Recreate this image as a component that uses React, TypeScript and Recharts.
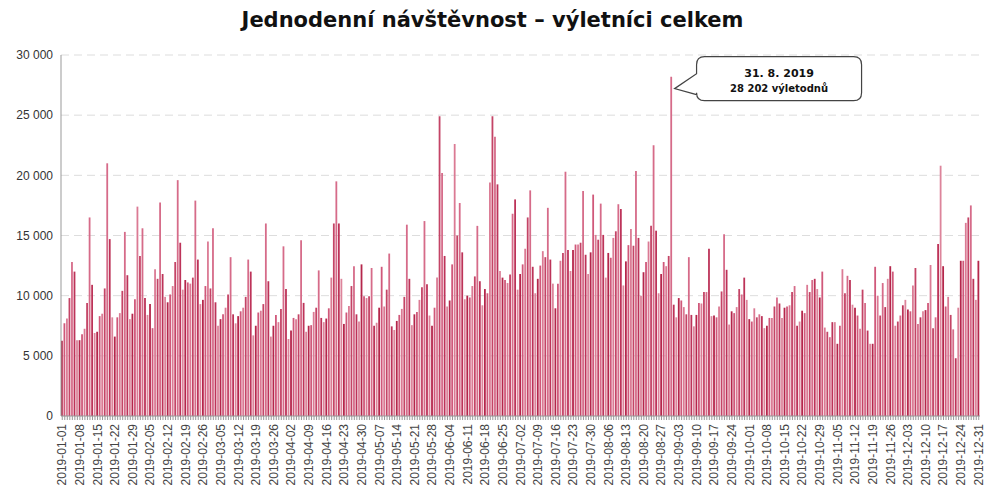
import React from "react";
import {
  BarChart,
  Bar,
  XAxis,
  YAxis,
  CartesianGrid,
  Cell,
  ReferenceDot,
} from "recharts";

// daily day-trip visits, 2019, one array per month
const jan = [6250, 7700, 8100, 9800, 12800, 12000, 6300, 6300, 6800, 7250, 9400, 16500, 10900, 6900, 7000, 8300, 8500, 10600, 21000, 14700, 8200, 6600, 8200, 8550, 10400, 15300, 11700, 8050, 8500, 9700, 17400];
const feb = [13300, 15600, 9800, 8400, 9300, 7300, 12200, 11400, 17750, 11800, 9900, 9450, 10100, 10800, 12800, 19600, 14400, 10500, 11300, 11100, 11000, 11500, 17900, 13000, 9300, 9650, 10800, 14500];
const mar = [10600, 15600, 9450, 7500, 8050, 8450, 9000, 10100, 13200, 8450, 7700, 8300, 8700, 9000, 9900, 13000, 12000, 6700, 7500, 8600, 8750, 9300, 16000, 11200, 6600, 7500, 8400, 7800, 8900, 14100, 10550];
const apr = [6400, 7100, 8150, 8050, 8450, 14600, 9400, 7000, 7500, 7550, 8650, 9000, 12100, 8150, 7800, 8100, 8950, 11500, 16000, 19500, 16000, 11400, 7650, 8600, 9150, 10800, 12450, 8450, 7850, 12600];
const may = [9950, 9800, 9950, 12300, 7500, 7750, 9000, 12400, 9100, 10500, 13500, 7450, 7150, 7900, 8400, 8900, 9900, 15900, 11400, 7550, 8450, 8650, 9650, 10700, 16200, 10950, 8350, 7500, 9000, 11500, 24900];
const jun = [20200, 13300, 9100, 9600, 12600, 22600, 15000, 17700, 13600, 9700, 10000, 9850, 10800, 11600, 15800, 11200, 9200, 10550, 10200, 19400, 24900, 23200, 19250, 12050, 11500, 11300, 11050, 11750, 16800, 18000];
const jul = [10500, 11800, 12600, 13900, 16500, 18750, 12400, 10200, 11400, 12500, 13700, 13200, 17300, 13000, 11000, 8950, 11000, 12900, 13550, 20300, 13800, 12050, 13800, 14250, 14250, 14400, 18700, 13400, 11800, 13600, 18400];
const aug = [15050, 14650, 17650, 15050, 11500, 13550, 13150, 14800, 15350, 17600, 17200, 10850, 12850, 14200, 15550, 14150, 20350, 14800, 10000, 11950, 12800, 14500, 15800, 22500, 15400, 10200, 11800, 12800, 12450, 13300, 28202];
const sep = [9250, 8200, 9800, 9600, 9050, 8450, 13200, 8400, 7450, 8400, 9400, 9350, 10300, 10300, 13900, 8300, 8350, 8200, 9100, 10350, 15100, 12150, 7600, 8700, 8550, 9050, 10550, 10100, 11500, 9650];
const oct = [8050, 7850, 8950, 8200, 8450, 8300, 7300, 7500, 8150, 8150, 9100, 9850, 9350, 8150, 9000, 9100, 9200, 10300, 10800, 7500, 7850, 8750, 8550, 10900, 10300, 11300, 11400, 10550, 9850, 12000, 7350];
const nov = [7000, 6550, 7800, 7800, 6000, 7500, 12200, 10200, 11650, 11300, 9250, 9000, 8350, 7250, 10500, 9400, 7100, 6000, 6000, 12400, 10000, 8350, 11050, 9050, 11400, 12450, 12000, 7500, 7850, 8350];
const dec = [9200, 9650, 8850, 8700, 10850, 12300, 7650, 8200, 8700, 8800, 9400, 12550, 7300, 8200, 14300, 20800, 12450, 9100, 9900, 8400, 7200, 4800, 9000, 12900, 12900, 16050, 16500, 17500, 11400, 9650, 12900];

const months = [jan, feb, mar, apr, may, jun, jul, aug, sep, oct, nov, dec];
const yTicks = [0, 5000, 10000, 15000, 20000, 25000, 30000];
const title = "Jednodenní návštěvnost – výletníci celkem";
const peakDate = "2019-08-31";
const peakValue = 28202;
const peakLines = ["31. 8. 2019", "28 202 výletodnů"];

const pad = (n: number) => String(n).padStart(2, "0");
const data = months.flatMap((vals, m) =>
  vals.map((v, d) => ({ date: `2019-${pad(m + 1)}-${pad(d + 1)}`, value: v }))
);

// shades by weekday (1 Jan 2019 was a Tuesday)
const shades = ["#b5264b", "#d0587a", "#db7a94", "#c44466", "#d66b89", "#bd3359", "#dd849b"];

const fmt = (v: number) => String(v).replace(/\B(?=(\d{3})+(?!\d))/g, " ");

const DateTick = (props: any) => {
  const { x, y, payload, index } = props;
  if (index % 7 !== 0) return null;
  return (
    <text
      x={x}
      y={y + 2}
      transform={`rotate(-90, ${x}, ${y + 2})`}
      textAnchor="end"
      dy={4}
      fontSize={12}
      fill="#444"
      fontFamily="Liberation Sans, Arial, sans-serif"
    >
      {payload.value}
    </text>
  );
};

const Callout = (props: any) => {
  const { cx, cy } = props;
  const left = cx + 25;
  const top = cy - 20;
  const w = 165;
  const h = 44;
  return (
    <g>
      <path
        d={`M${left + 8},${top} H${left + w - 8} Q${left + w},${top} ${left + w},${top + 8} V${top + h - 8} Q${left + w},${top + h} ${left + w - 8},${top + h} H${left + 8} Q${left},${top + h} ${left},${top + h - 8} V${cy + 18} L${cx + 3},${cy + 12} L${left},${cy - 3} V${top + 8} Q${left},${top} ${left + 8},${top} Z`}
        fill="#fff"
        stroke="#444"
        strokeWidth={1.2}
      />
      <text
        x={left + w / 2}
        y={cy}
        textAnchor="middle"
        fontSize={11}
        fontWeight="bold"
        fill="#111"
        fontFamily="DejaVu Sans, sans-serif"
      >
        {peakLines[0]}
      </text>
      <text
        x={left + w / 2}
        y={cy + 15}
        textAnchor="middle"
        fontSize={10}
        fontWeight="bold"
        fill="#111"
        fontFamily="DejaVu Sans, sans-serif"
      >
        {peakLines[1]}
      </text>
    </g>
  );
};

export default function App() {
  return (
    <div style={{ position: "absolute", left: 0, top: 0, width: 985, height: 486, background: "#fff" }}>
      <div
        style={{
          position: "absolute",
          top: 8,
          left: 0,
          width: 985,
          textAlign: "center",
          fontFamily: "DejaVu Sans, sans-serif",
          fontWeight: "bold",
          fontSize: 21,
          color: "#111",
        }}
      >
        {title}
      </div>
      <BarChart
        width={985}
        height={486}
        data={data}
        margin={{ top: 55, right: 5, left: 0, bottom: 0 }}
        barSize={1.8}
      >
        <CartesianGrid vertical={false} stroke="#dddddd" strokeDasharray="8 5" />
        <XAxis
          dataKey="date"
          interval={0}
          tick={<DateTick />}
          tickSize={4}
          tickLine={{ stroke: "#999" }}
          axisLine={{ stroke: "#999" }}
          height={70}
        />
        <YAxis
          width={61}
          domain={[0, 30000]}
          ticks={yTicks}
          tickFormatter={fmt}
          tickLine={false}
          axisLine={{ stroke: "#999" }}
          tick={{ fontSize: 12, fill: "#333", fontFamily: "Liberation Sans, Arial, sans-serif" }}
        />
        <Bar dataKey="value" isAnimationActive={false}>
          {data.map((_, i) => (
            <Cell key={i} fill={shades[i % 7]} />
          ))}
        </Bar>
        <ReferenceDot x={peakDate} y={peakValue} r={0} shape={<Callout />} />
      </BarChart>
    </div>
  );
}
